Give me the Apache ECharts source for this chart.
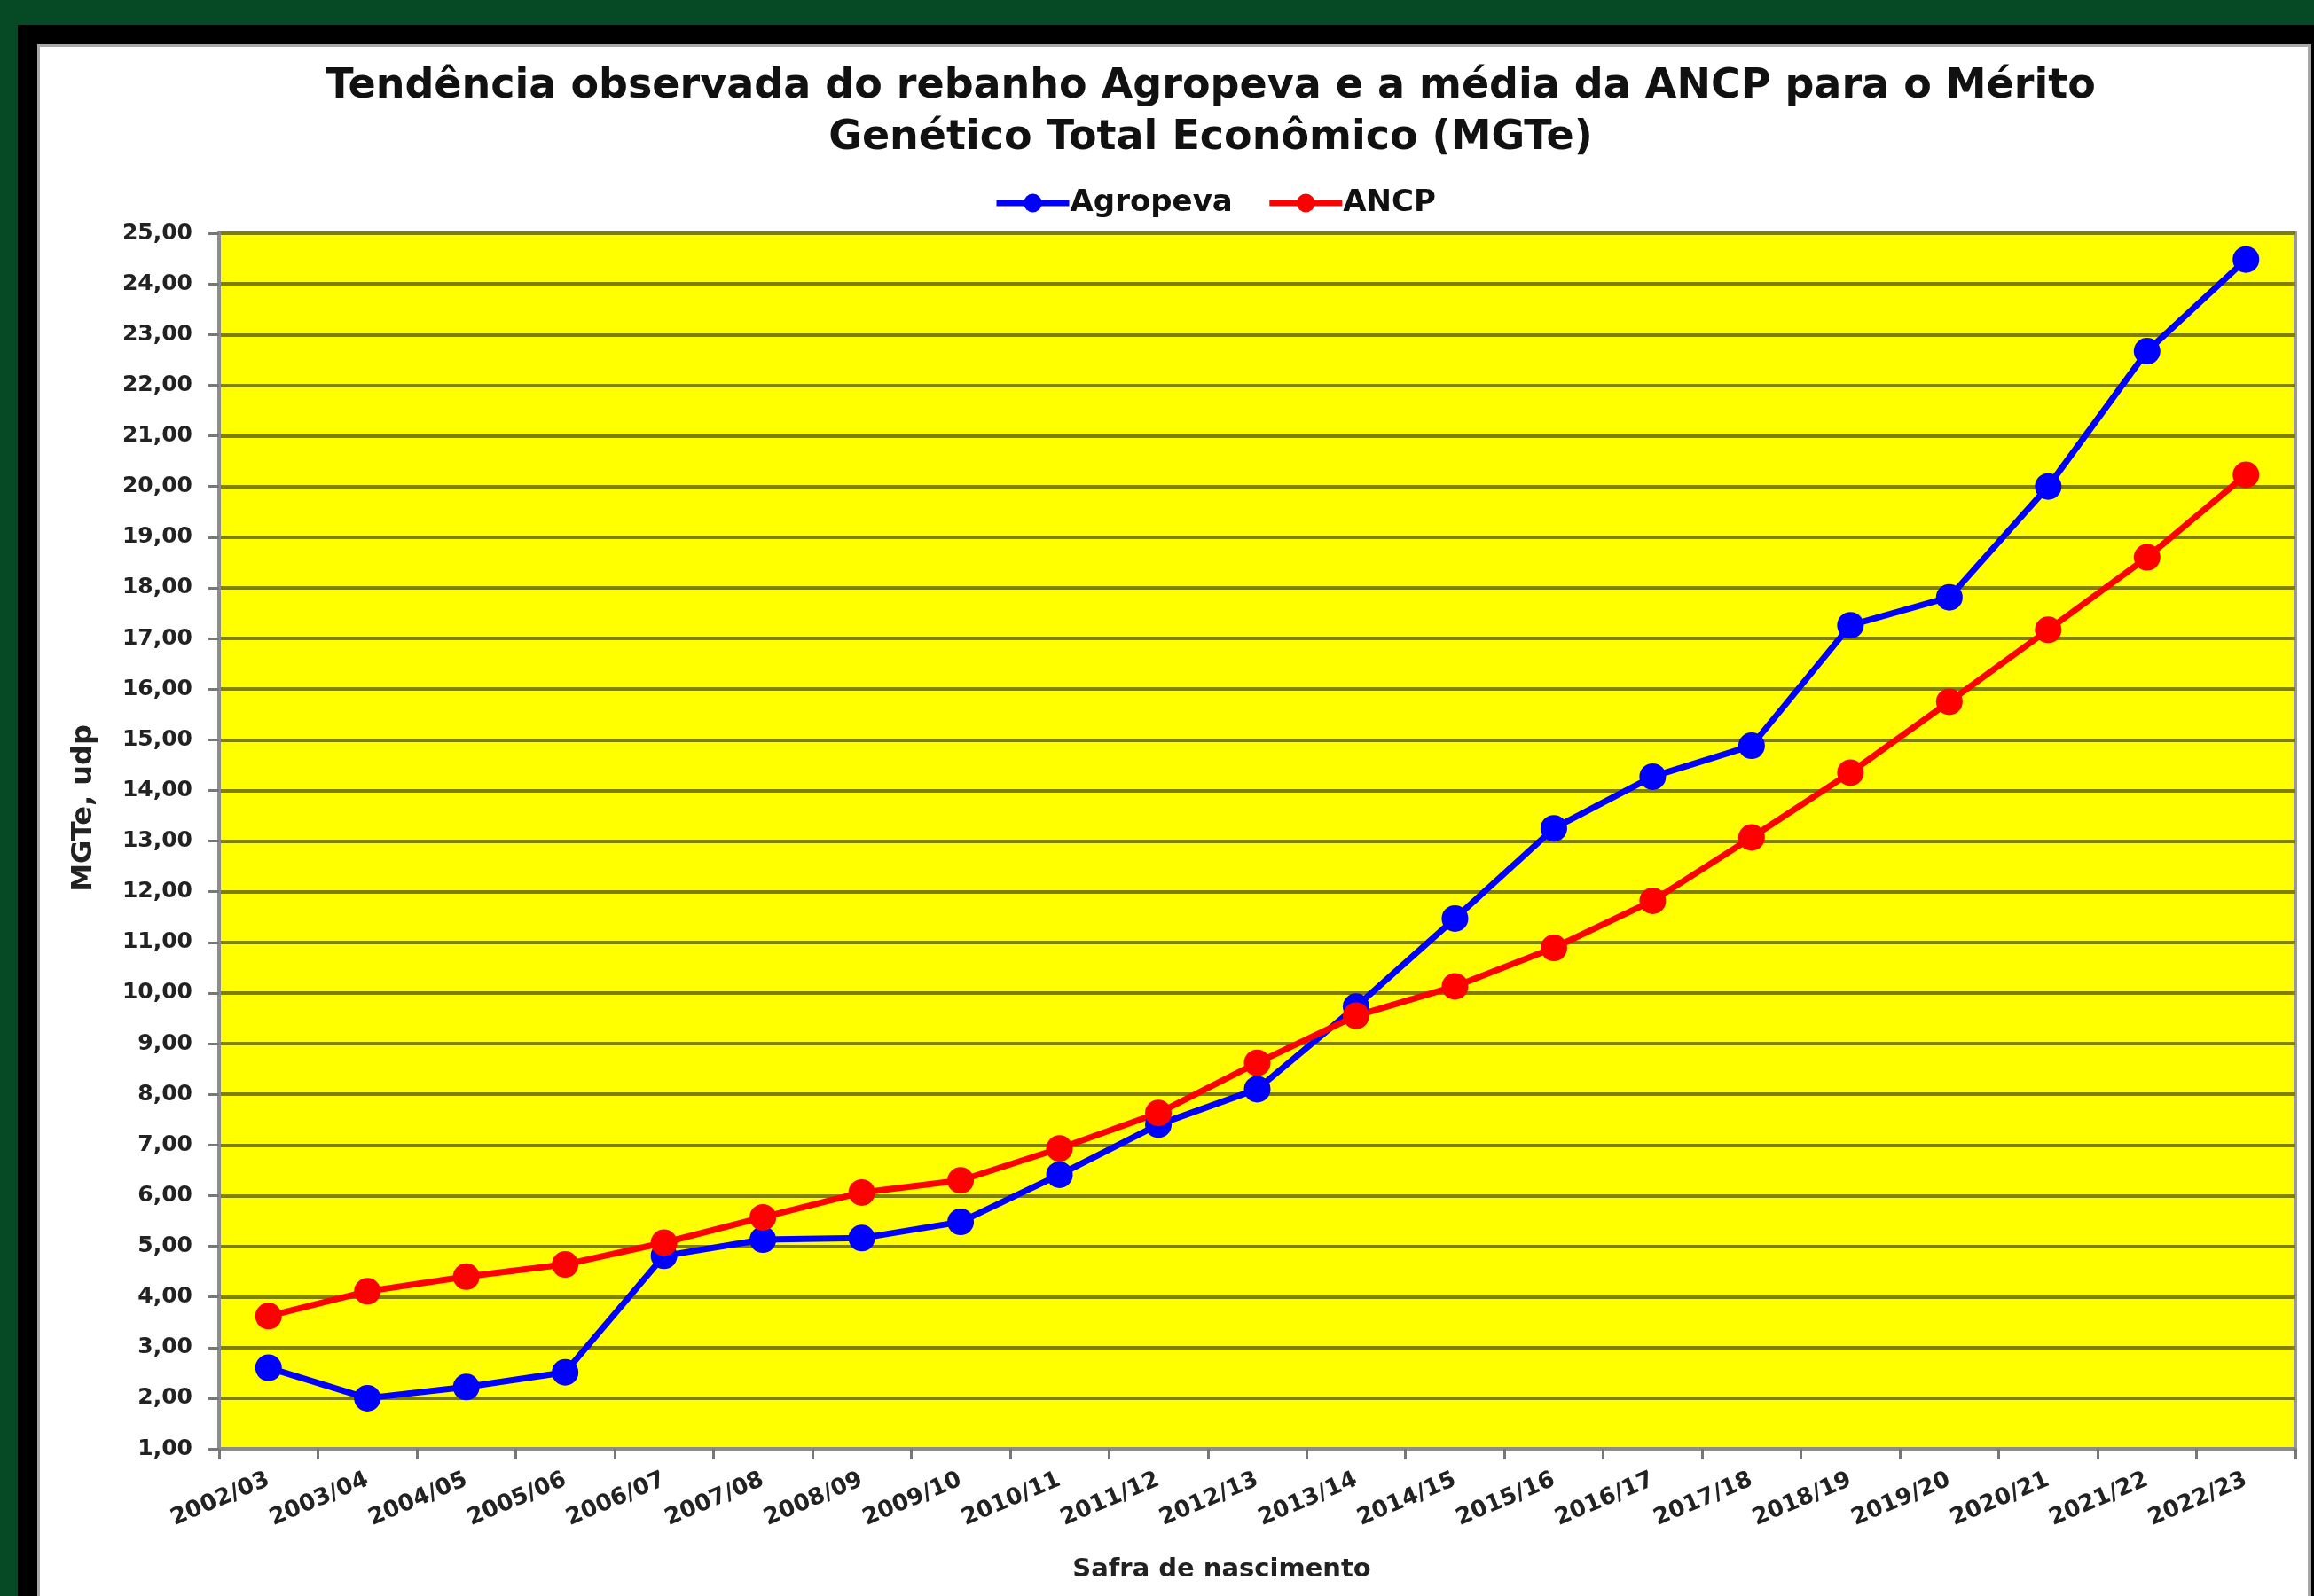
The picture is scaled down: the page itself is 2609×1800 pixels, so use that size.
<!DOCTYPE html>
<html>
<head>
<meta charset="utf-8">
<title>MGTe</title>
<script src="https://cdn.jsdelivr.net/npm/echarts@6/dist/echarts.min.js"></script>
<style>
	html, body {
		margin: 0;
		padding: 0;
		background: #054a25;
	}
	#mainChart {
		width: 2609px;
		height: 1800px;
	}
</style>
</head>
<body>
<div id="mainChart"></div>
<script>
// safras
var categories = ['2002/03', '2003/04', '2004/05', '2005/06', '2006/07', '2007/08', '2008/09',
	'2009/10', '2010/11', '2011/12', '2012/13', '2013/14', '2014/15', '2015/16', '2016/17',
	'2017/18', '2018/19', '2019/20', '2020/21', '2021/22', '2022/23'];

// rebanho Agropeva
var agropeva = [2.60, 2.00, 2.22, 2.51, 4.81, 5.13, 5.16, 5.48, 6.41, 7.40, 8.10,
	9.73, 11.47, 13.25, 14.27, 14.88, 17.26, 17.81, 20.00, 22.67, 24.48];

// media ANCP
var ancp = [3.62, 4.11, 4.40, 4.64, 5.07, 5.57, 6.06, 6.30, 6.93, 7.63, 8.62,
	9.55, 10.13, 10.89, 11.82, 13.07, 14.35, 15.75, 17.17, 18.60, 20.23];

var seriesNames = ['Agropeva', 'ANCP'];

var fontName = 'DejaVu Sans';

init();

function init() {
	var mainChart = echarts.init(document.getElementById('mainChart'));
	mainChart.setOption({
		backgroundColor: '#054a25',
		animation: false,
		color: ['#0000ff', '#ff0000'],
		// moldura do slide
		graphic: [{
				type: 'rect',
				silent: true,
				z: -10,
				shape: { x: 20, y: 28, width: 2589, height: 1772 },
				style: { fill: '#000000' }
			},
			{
				type: 'rect',
				silent: true,
				z: -9,
				shape: { x: 42, y: 50, width: 2564, height: 1750 },
				style: { fill: '#a8a8a8' }
			},
			{
				type: 'rect',
				silent: true,
				z: -8,
				shape: { x: 45, y: 53, width: 2557, height: 1747 },
				style: { fill: '#ffffff' }
			}
		],
		title: {
			text: 'Tendência observada do rebanho Agropeva e a média da ANCP para o Mérito\nGenético Total Econômico (MGTe)',
			left: 1360,
			textAlign: 'center',
			top: 64,
			textStyle: {
				fontFamily: fontName,
				fontWeight: 'bold',
				fontSize: 46,
				lineHeight: 58,
				color: '#111111'
			}
		},
		legend: {
			top: 207,
			left: 1115,
			itemWidth: 82,
			itemHeight: 26,
			itemGap: 38,
			lineStyle: {
				width: 7
			},
			textStyle: {
				fontFamily: fontName,
				fontWeight: 'bold',
				fontSize: 34,
				color: '#111111',
				padding: [0, 0, 0, -4]
			},
			data: seriesNames
		},
		grid: {
			left: 247,
			right: 21,
			top: 263,
			bottom: 166,
			show: true,
			backgroundColor: '#ffff00',
			borderColor: '#9a9a80',
			borderWidth: 4
		},
		xAxis: [{
			type: 'category',
			data: categories,
			boundaryGap: true,
			name: 'Safra de nascimento',
			nameLocation: 'middle',
			nameGap: 122,
			nameTextStyle: {
				fontFamily: fontName,
				fontWeight: 'bold',
				fontSize: 29,
				color: '#222222',
				padding: [0, 80, 0, 0]
			},
			axisLine: {
				lineStyle: {
					color: '#8c8c8c',
					width: 4
				}
			},
			axisTick: {
				show: true,
				length: 12,
				lineStyle: {
					color: '#777777',
					width: 3
				}
			},
			axisLabel: {
				interval: 0,
				rotate: 23,
				margin: 34,
				fontFamily: fontName,
				fontWeight: 'bold',
				fontSize: 26,
				color: '#222222'
			},
			splitLine: {
				show: false
			}
		}],
		yAxis: [{
			type: 'value',
			min: 1,
			max: 25,
			interval: 1,
			name: 'MGTe, udp',
			nameLocation: 'middle',
			nameGap: 136,
			nameRotate: 90,
			nameTextStyle: {
				fontFamily: fontName,
				fontWeight: 'bold',
				fontSize: 32,
				color: '#222222',
				padding: [0, 0, 0, 74]
			},
			axisLine: {
				show: true,
				lineStyle: {
					color: '#8c8c8c',
					width: 4
				}
			},
			axisTick: {
				show: true,
				length: 12,
				lineStyle: {
					color: '#777777',
					width: 3
				}
			},
			axisLabel: {
				margin: 30,
				fontFamily: fontName,
				fontWeight: 'bold',
				fontSize: 25,
				color: '#222222',
				formatter: function(value) {
					return value.toFixed(2).replace('.', ',');
				}
			},
			splitLine: {
				lineStyle: {
					color: '#7f7f00',
					width: 4,
					type: 'solid'
				}
			}
		}],
		series: [{
				name: seriesNames[0],
				type: 'line',
				symbol: 'circle',
				symbolSize: 30,
				lineStyle: {
					width: 7
				},
				data: agropeva
			},
			{
				name: seriesNames[1],
				type: 'line',
				symbol: 'circle',
				symbolSize: 30,
				lineStyle: {
					width: 7
				},
				data: ancp
			}
		]
	});
}
</script>
</body>
</html>
